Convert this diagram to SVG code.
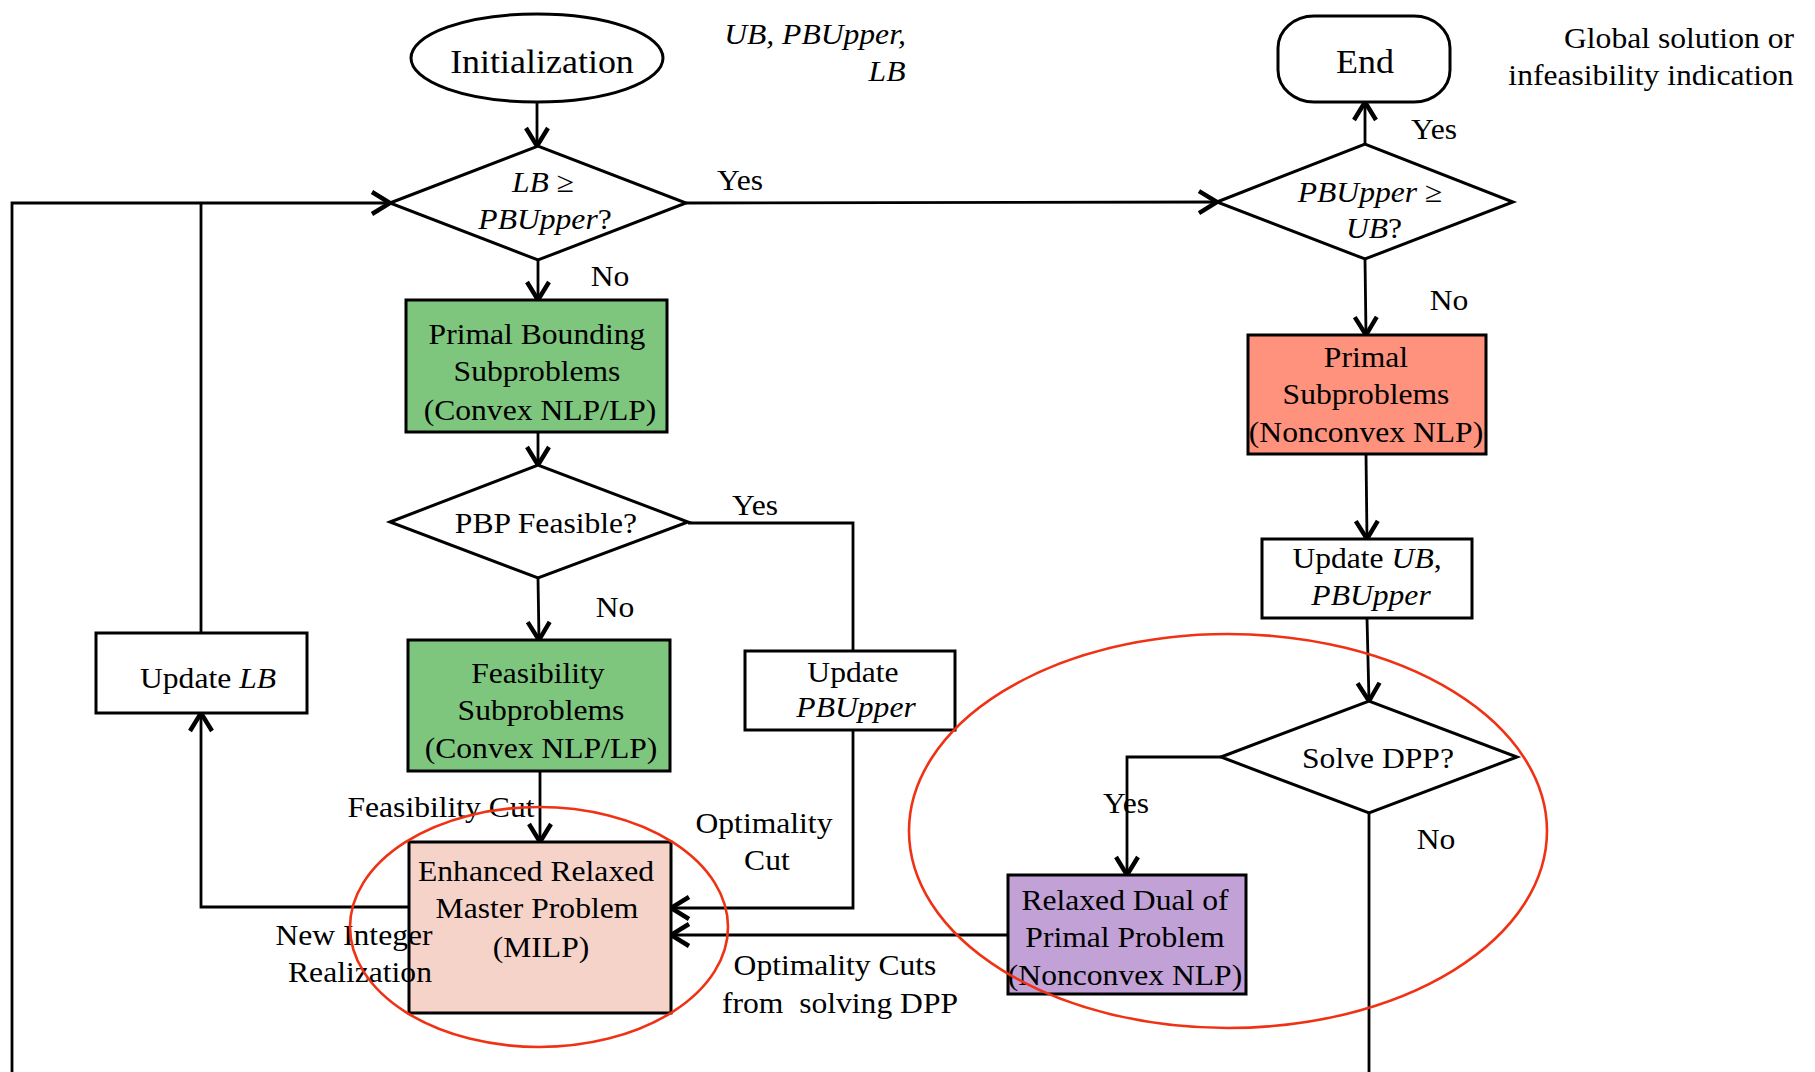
<svg xmlns="http://www.w3.org/2000/svg" width="1815" height="1072" viewBox="0 0 1815 1072">
  <style>
    text { font-family: "Liberation Serif", "Times New Roman", serif; font-size: 29px; fill: #000; text-anchor: middle;
           transform-box: fill-box; transform-origin: center; transform: scaleX(1.09); }
    .big { font-size: 33px; }
    .it { font-style: italic; }
    .pre { white-space: pre; }
    .shape { stroke: #000; stroke-width: 3; }
    .white { fill: #fff; }
    .green { fill: #7ec57e; }
    .salmon { fill: #fe927c; }
    .pink { fill: #f5d3c9; }
    .lilac { fill: #c1a1d6; }
    .conn path { fill: none; stroke: #000; stroke-width: 2.8; }
    .conn path.arr { marker-end: url(#ah); }
    .ring { fill: none; stroke: #f03214; stroke-width: 2.6; }
  </style>
  <defs>
    <marker id="ah" markerUnits="userSpaceOnUse" markerWidth="26" markerHeight="26" refX="19" refY="11" orient="auto" overflow="visible">
      <path d="M1,0 L19,11 L1,22" fill="none" stroke="#000" stroke-width="4.4"/>
    </marker>
  </defs>

  <rect width="1815" height="1072" fill="#fff"/>

  <!-- connectors -->
  <g id="connectors" class="conn">
    <path class="arr" d="M537,102 L537,146"/>
    <path class="arr" d="M686,203 L1217,202"/>
    <path class="arr" d="M12,1072 L12,203 L390,203"/>
    <path d="M201,633 L201,203"/>
    <path class="arr" d="M538,260 L538,300"/>
    <path class="arr" d="M538,432 L538,465"/>
    <path class="arr" d="M538,578 L539,640"/>
    <path d="M688,523 L853,523 L853,651"/>
    <path class="arr" d="M853,730 L853,908 L671,908"/>
    <path class="arr" d="M540,771 L540,842"/>
    <path class="arr" d="M409,907 L201,907 L201,713"/>
    <path class="arr" d="M1365,144 L1365,102"/>
    <path class="arr" d="M1365,259 L1366,335"/>
    <path class="arr" d="M1366,454 L1367,539"/>
    <path class="arr" d="M1367,618 L1369,701"/>
    <path class="arr" d="M1221,757 L1127,757 L1127,875"/>
    <path d="M1369,813 L1369,1072"/>
    <path class="arr" d="M1008,935 L671,935"/>
  </g>

  <!-- nodes -->
  <g id="init">
    <ellipse class="shape white" cx="537" cy="58" rx="126" ry="44"/>
    <text class="big" x="542" y="73">Initialization</text>
  </g>
  <g id="init-note">
    <text class="it" x="815" y="44">UB, PBUpper,</text>
    <text class="it" x="887" y="81">LB</text>
  </g>

  <g id="check-lb">
    <polygon class="shape white" points="390,203 538,146 686,203 538,260"/>
    <text x="543" y="192"><tspan class="it">LB</tspan> ≥</text>
    <text x="545" y="229"><tspan class="it">PBUpper</tspan>?</text>
  </g>

  <g id="end">
    <rect class="shape white" x="1278" y="16" width="172" height="86" rx="36" ry="32"/>
    <text class="big" x="1365" y="73">End</text>
  </g>
  <g id="end-note">
    <text x="1679" y="48">Global solution or</text>
    <text x="1651" y="85">infeasibility indication</text>
  </g>

  <g id="check-ub">
    <polygon class="shape white" points="1217,202 1365,144 1513,202 1365,259"/>
    <text x="1370" y="202"><tspan class="it">PBUpper</tspan> ≥</text>
    <text x="1374" y="238"><tspan class="it">UB</tspan>?</text>
  </g>

  <g id="pbp">
    <rect class="shape green" x="406" y="300" width="261" height="132"/>
    <text x="537" y="344">Primal Bounding</text>
    <text x="537" y="381">Subproblems</text>
    <text x="540" y="420">(Convex NLP/LP)</text>
  </g>

  <g id="pbp-feasible">
    <polygon class="shape white" points="390,522 538,465 688,522 538,578"/>
    <text x="546" y="533">PBP Feasible?</text>
  </g>

  <g id="feasibility">
    <rect class="shape green" x="408" y="640" width="262" height="131"/>
    <text x="538" y="683">Feasibility</text>
    <text x="541" y="720">Subproblems</text>
    <text x="541" y="758">(Convex NLP/LP)</text>
  </g>

  <g id="update-lb">
    <rect class="shape white" x="96" y="633" width="211" height="80"/>
    <text x="208" y="688">Update <tspan class="it">LB</tspan></text>
  </g>

  <g id="update-pbupper">
    <rect class="shape white" x="745" y="651" width="210" height="79"/>
    <text x="853" y="682">Update</text>
    <text class="it" x="856" y="717">PBUpper</text>
  </g>

  <g id="master">
    <rect class="shape pink" x="409" y="842" width="262" height="171"/>
    <text x="536" y="881">Enhanced Relaxed</text>
    <text x="537" y="918">Master Problem</text>
    <text x="541" y="957">(MILP)</text>
  </g>

  <g id="primal">
    <rect class="shape salmon" x="1248" y="335" width="238" height="119"/>
    <text x="1366" y="367">Primal</text>
    <text x="1366" y="404">Subproblems</text>
    <text x="1366" y="442">(Nonconvex NLP)</text>
  </g>

  <g id="update-ub">
    <rect class="shape white" x="1262" y="539" width="210" height="79"/>
    <text x="1367" y="568">Update <tspan class="it">UB</tspan>,</text>
    <text class="it" x="1371" y="605">PBUpper</text>
  </g>

  <g id="solve-dpp">
    <polygon class="shape white" points="1221,757 1369,701 1517,757 1369,813"/>
    <text x="1378" y="768">Solve DPP?</text>
  </g>

  <g id="dual">
    <rect class="shape lilac" x="1008" y="875" width="238" height="119"/>
    <text x="1125" y="910">Relaxed Dual of</text>
    <text x="1125" y="947">Primal Problem</text>
    <text x="1125" y="985">(Nonconvex NLP)</text>
  </g>

  <!-- edge labels -->
  <g id="labels">
    <text x="740" y="190">Yes</text>
    <text x="610" y="286">No</text>
    <text x="1434" y="139">Yes</text>
    <text x="1449" y="310">No</text>
    <text x="755" y="515">Yes</text>
    <text x="615" y="617">No</text>
    <text x="441" y="817">Feasibility Cut</text>
    <text x="764" y="833">Optimality</text>
    <text x="767" y="870">Cut</text>
    <text x="354" y="945">New Integer</text>
    <text x="360" y="982">Realization</text>
    <text x="835" y="975">Optimality Cuts</text>
    <text class="pre" x="840" y="1013">from  solving DPP</text>
    <text x="1126" y="813">Yes</text>
    <text x="1436" y="849">No</text>
  </g>

  <!-- highlight rings -->
  <g id="highlights">
    <ellipse class="ring" cx="539" cy="927" rx="189" ry="120"/>
    <ellipse class="ring" cx="1228" cy="831" rx="319" ry="197"/>
  </g>
</svg>
